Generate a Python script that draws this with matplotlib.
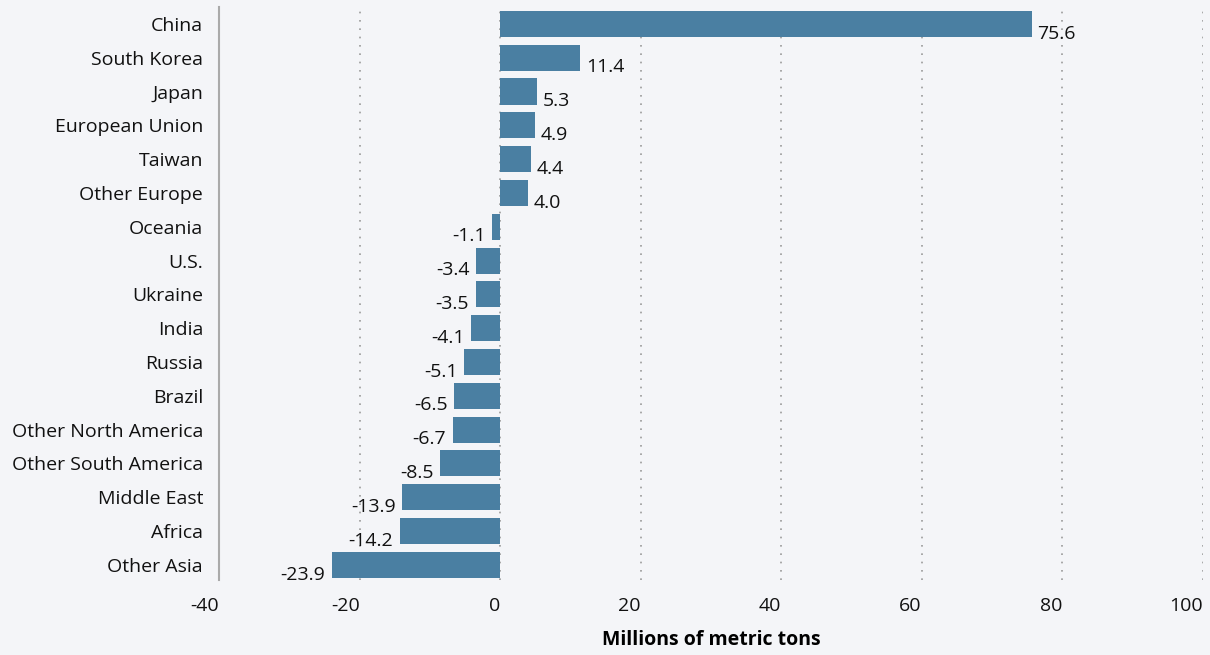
import matplotlib.pyplot as plt
from matplotlib import font_manager

regions = ["China", "South Korea", "Japan", "European Union", "Taiwan", "Other Europe",
           "Oceania", "U.S.", "Ukraine", "India", "Russia", "Brazil",
           "Other North America", "Other South America", "Middle East", "Africa", "Other Asia"]
values = [75.6, 11.4, 5.3, 4.9, 4.4, 4.0, -1.1, -3.4, -3.5, -4.1, -5.1, -6.5,
          -6.7, -8.5, -13.9, -14.2, -23.9]
xticks = [-40, -20, 0, 20, 40, 60, 80, 100]

names = {f.name for f in font_manager.fontManager.ttflist}
fam = [f for f in ["Liberation Sans Narrow", "Open Sans", "DejaVu Sans"] if f in names]
plt.rcParams['font.family'] = fam

bg = "#f4f5f8"
bar_color = "#4a7fa2"

fig = plt.figure(figsize=(12.1, 6.55), dpi=100, facecolor=bg)
ax = fig.add_axes([219/1210, 1 - 580/655, (1203 - 219)/1210, (580 - 7)/655])
ax.set_facecolor(bg)

ypos = list(range(len(regions)))
ax.barh(ypos, values, height=0.77, color=bar_color, zorder=3)

# value labels sit just past the bar end, nudged down a bit
for y, v in zip(ypos, values):
    if v >= 0:
        ax.annotate(f"{v:.1f}", (v, y), xytext=(4, -7), textcoords="offset points",
                    ha="left", va="center", fontsize=14, color="#111111", zorder=4)
    else:
        ax.annotate(f"{v:.1f}", (v, y), xytext=(-5, -7), textcoords="offset points",
                    ha="right", va="center", fontsize=14, color="#111111", zorder=4)

ax.set_xlim(-40, 100)
ax.set_ylim(len(regions) - 0.55, -0.5)
ax.set_xticks(xticks)
ax.set_xticklabels([str(t) for t in xticks], ha="right", fontsize=14)
ax.set_yticks(ypos)
ax.set_yticklabels(regions, fontsize=14)
ax.tick_params(axis="both", length=0, colors="#111111")
ax.tick_params(axis="x", pad=12)
ax.tick_params(axis="y", pad=11.5)

for t in xticks[1:]:
    ax.axvline(t, color="#9a9a9a", linestyle=(0, (1, 4)), linewidth=1.2, zorder=1)

for s in ["top", "right", "bottom"]:
    ax.spines[s].set_visible(False)
ax.spines["left"].set_color("#aaaaaa")
ax.spines["left"].set_linewidth(1.5)

ax.set_xlabel("Millions of metric tons", fontsize=14, fontweight="bold", labelpad=11)

fig.savefig("out.png", dpi=100, facecolor=bg)
